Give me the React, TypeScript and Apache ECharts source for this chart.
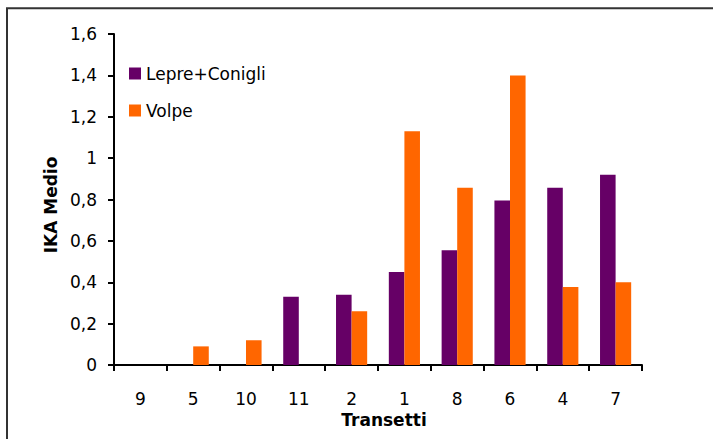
import React, { useEffect, useRef } from "react";
import * as echarts from "echarts";

const categories = ["9", "5", "10", "11", "2", "1", "8", "6", "4", "7"];
const lepreConigli = [0, 0, 0, 0.33, 0.34, 0.45, 0.555, 0.795, 0.857, 0.92];
const volpe = [0, 0.09, 0.12, 0, 0.26, 1.13, 0.857, 1.4, 0.377, 0.4];
const seriesNames = ["Lepre+Conigli", "Volpe"];
const seriesColors = ["#660066", "#FF6600"];

const FONT = "DejaVu Sans";

export default function App() {
  const ref = useRef<HTMLDivElement>(null);
  useEffect(() => {
    if (!ref.current) return;
    const chart = echarts.init(ref.current, null, { renderer: "svg" });
    chart.setOption({
      animation: false,
      backgroundColor: "#ffffff",
      textStyle: { fontFamily: FONT, color: "#000" },
      graphic: [
        {
          type: "rect",
          shape: { x: 7, y: 8.3, width: 900, height: 600 },
          style: { fill: "none", stroke: "#333", lineWidth: 2 },
          silent: true,
        },
      ],
      legend: {
        orient: "vertical",
        left: 124,
        top: 60,
        padding: 5,
        itemWidth: 12,
        itemHeight: 12,
        itemGap: 20,
        icon: "rect",
        data: seriesNames,
        textStyle: { fontFamily: FONT, fontSize: 17, color: "#000", lineHeight: 17 },
      },
      grid: { left: 114, top: 34, right: 71, bottom: 74, containLabel: false },
      xAxis: {
        type: "category",
        data: categories,
        name: "Transetti",
        nameLocation: "middle",
        nameGap: 42,
        nameTextStyle: { fontFamily: FONT, fontSize: 17, fontWeight: "bold", color: "#000", padding: [0, 0, 0, 12] },
        axisLine: { lineStyle: { color: "#000", width: 2 } },
        axisTick: { show: true, length: 6, alignWithLabel: false, lineStyle: { color: "#000", width: 2 } },
        axisLabel: { fontFamily: FONT, fontSize: 17, color: "#000", margin: 25 },
      },
      yAxis: {
        type: "value",
        min: 0,
        max: 1.6,
        interval: 0.2,
        name: "IKA Medio",
        nameLocation: "middle",
        nameGap: 55,
        nameTextStyle: { fontFamily: FONT, fontSize: 17, fontWeight: "bold", color: "#000", padding: [0, 11, 0, 0] },
        splitLine: { show: false },
        axisLine: { show: true, lineStyle: { color: "#000", width: 2 } },
        axisTick: { show: true, length: 6, lineStyle: { color: "#000", width: 2 } },
        axisLabel: {
          fontFamily: FONT,
          fontSize: 17,
          color: "#000",
          margin: 17,
          formatter: (v: number) => String(Number(v.toFixed(1))).replace(".", ","),
        },
      },
      series: [
        {
          name: seriesNames[0],
          type: "bar",
          data: lepreConigli,
          barGap: "0%",
          barCategoryGap: "41%",
          itemStyle: { color: seriesColors[0] },
        },
        {
          name: seriesNames[1],
          type: "bar",
          data: volpe,
          barGap: "0%",
          barCategoryGap: "41%",
          itemStyle: { color: seriesColors[1] },
        },
      ],
    });
    return () => chart.dispose();
  }, []);
  return (
    <div
      ref={ref}
      style={{ position: "absolute", left: 0, top: 0, width: 713, height: 439 }}
    />
  );
}
